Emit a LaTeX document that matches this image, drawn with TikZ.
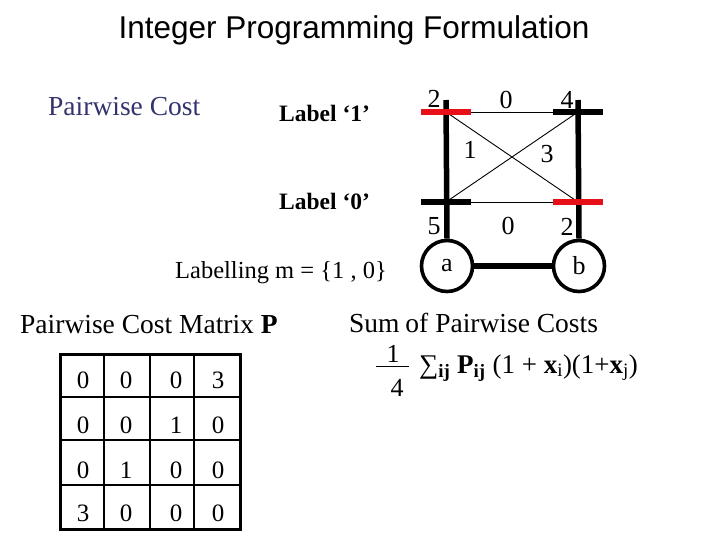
\documentclass[tikz,border=0pt]{standalone}
\usepackage{fontspec}
\setmainfont{Liberation Serif}
\newfontfamily\titlefont{Liberation Sans}
\definecolor{redbar}{RGB}{232,16,24}
\definecolor{pcblue}{RGB}{51,51,110}
\tikzset{
  fs/.style={font=\fontsize{#1}{#1}\selectfont},
  txt/.style={inner sep=0pt, anchor=base},
  thickv/.style={line width=5.5pt},
  bar/.style={line width=6pt},
  thin/.style={line width=0.9pt},
  vcirc/.style={circle, draw, line width=3.6pt, minimum size=51pt, inner sep=0pt, font=\fontsize{26}{26}\selectfont},
  num/.style={inner sep=0pt, font=\fontsize{26}{26}\selectfont},
  mnum/.style={inner sep=0pt, font=\fontsize{25}{25}\selectfont},
}
\begin{document}
\begin{tikzpicture}[x=1pt,y=-1pt]
\useasboundingbox (0,0) rectangle (720,540);
% title
\node[txt, fs=31.5] (title) at (354,39) {\titlefont Integer Programming Formulation};
\node[txt, fs=27.5, text=pcblue, anchor=base west] (pc) at (48,116) {Pairwise Cost};
\node[txt, fs=23.5, anchor=base west] (l1) at (279,122) {\bfseries Label ‘1’};
\node[txt, fs=23.5, anchor=base west] (l0) at (279,210) {\bfseries Label ‘0’};
\node[txt, fs=24.5, anchor=base west] (lab) at (175,278) {Labelling m = \{1 , 0\}};
% graph
\coordinate (tl) at (446,112);
\coordinate (tr) at (578,112);
\coordinate (bl) at (446,202);
\coordinate (br) at (578,202);
\coordinate (ltop) at (446,100);
\coordinate (rtop) at (578,100);
\node[vcirc] (a) at (447,266) {a};
\node[vcirc] (b) at (579,266) {b};
\draw[thin] (tl) -- (tr);
\draw[thin] (bl) -- (br);
\draw[thin] (tl) -- (br);
\draw[thin] (bl) -- (tr);
\draw[thickv] (ltop) -- (a.north);
\draw[thickv] (rtop) -- (b.north);
\draw[thickv] (a) -- (b);
\draw[bar, redbar] ([xshift=-25pt]tl) -- ([xshift=25pt]tl);
\draw[bar, black] ([xshift=-25pt]tr) -- ([xshift=25pt]tr);
\draw[bar, black] ([xshift=-25pt]bl) -- ([xshift=25pt]bl);
\draw[bar, redbar] ([xshift=-25pt]br) -- ([xshift=25pt]br);
\node[num] (n2) at (434,99) {2};
\node[num] (n0t) at (506,100) {0};
\node[num] (n4) at (567,100) {4};
\node[num] (n1) at (470,150) {1};
\node[num] (n3) at (547,154) {3};
\node[num] (n5) at (434,226) {5};
\node[num] (n0b) at (508,226) {0};
\node[num] (n2b) at (567,227) {2};
% matrix
\node[txt, fs=27.5, anchor=base west] (pcm) at (20,333) {Pairwise Cost Matrix \textbf{P}};
\draw[line width=2pt] (104,354) -- (104,529) (150,354) -- (150,529) (194,354) -- (194,529);
\draw[line width=2pt] (60,397) -- (240,397) (60,440) -- (240,440) (60,485) -- (240,485);
\draw[line width=3pt] (60,354) rectangle (240,529);
\foreach \r/\y/\row in {1/380/{0,0,0,3}, 2/425/{0,0,1,0}, 3/470/{0,1,0,0}, 4/513/{3,0,0,0}}{
  \foreach \v [count=\c] in \row {
    \pgfmathsetmacro\xx{\c==1 ? 83 : (\c==2 ? 126 : (\c==3 ? 176 : 218))}
    \node[mnum] (m\r\c) at (\xx,\y) {\v};
  }
}
% sum
\node[txt, fs=27.5, anchor=base west] (sum) at (349,332) {Sum\hspace{-1pt} of Pairwise Costs};
\node[num] (one) at (393,354) {1};
\node[num] (four) at (397,388) {4};
\draw[line width=1pt] (376,366) -- (409,366);
\node[txt, fs=27, anchor=base west] (formula) at (419,373) {∑\textsubscript{\textbf{ij}} \textbf{P}\textsubscript{\textbf{ij}} (1 + \textbf{x}\textsubscript{i})(1+\textbf{x}\textsubscript{j})};
\end{tikzpicture}
\end{document}
